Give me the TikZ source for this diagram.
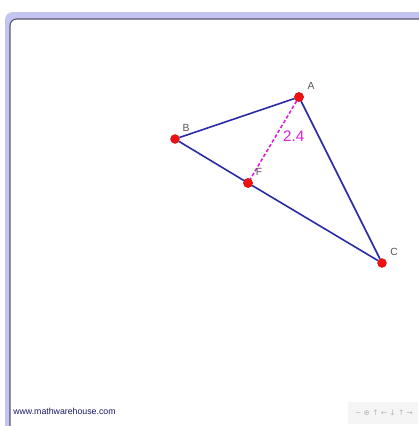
\documentclass[tikz,border=0pt]{standalone}
\usepackage{fontspec}
\setmainfont{Liberation Sans}
\newfontfamily\symfont{DejaVu Sans}
\usepackage{tikz}
\usetikzlibrary{positioning,calc}
\definecolor{frameband}{HTML}{C4C4F2}
\definecolor{frameline}{HTML}{55556A}
\definecolor{sidecol}{HTML}{2A2AA6}
\definecolor{altcol}{HTML}{E020D8}
\definecolor{ptred}{HTML}{F01010}
\definecolor{lblgray}{HTML}{555555}

\begin{document}
\begin{tikzpicture}[x=0.2646mm,y=-0.2646mm,
    pt/.style={circle,fill=ptred,draw=ptred!80!black,line width=0.2pt,minimum size=2.4mm,inner sep=0pt},
    lbl/.style={font=\fontsize{7.8}{8}\selectfont,text=lblgray,inner sep=0pt},
    side/.style={draw=sidecol,line width=1.2pt},
    alt/.style={draw=altcol,line width=1.2pt,dash pattern=on 2.6pt off 1.6pt}]
\useasboundingbox (0,0) rectangle (418,426);
\fill[white] (0,0) rectangle (418,426);
% frame
\fill[frameband,rounded corners=6] (5,12) rectangle (430,440);
\fill[white,rounded corners=5] (10,19) rectangle (430,440);
\draw[frameline,line width=0.8pt,rounded corners=5] (10,430) -- (10,19) -- (430,19);
% triangle
\node[pt] (B) at (175,139) {};
\node[pt] (A) at (299,97) {};
\node[pt] (C) at (382,263) {};
\node[pt] (F) at (248,183) {};
\draw[side] (A)--(B);
\draw[side] (B)--(F);
\draw[side] (F)--(C);
\draw[side] (C)--(A);
\draw[alt] (A)--node[right=1.5pt,pos=0.45,font=\fontsize{11.5}{12}\selectfont,text=altcol]{2.4} (F);
\node[pt] at (A) {};
\node[pt] at (F) {};
\node[lbl] (la) at (311,86) {A};
\node[lbl] (lb) at (186,128) {B};
\node[lbl] (lf) at (259,172) {F};
\node[lbl] (lc) at (394,252) {C};
% footer
\node[anchor=west,font=\fontsize{6.6}{7}\selectfont,text=sidecol!60!black,inner sep=0pt] (site) at (13,411) {www.mathwarehouse.com};
\fill[black!4] (348,402) rectangle (418,424);
\node[font=\symfont\fontsize{5.6}{6}\selectfont,text=black!30,inner sep=0pt] (ctrl) at (384,413) {− ⊕ ↑ ← ↓ ↑ →};
\end{tikzpicture}
\end{document}
